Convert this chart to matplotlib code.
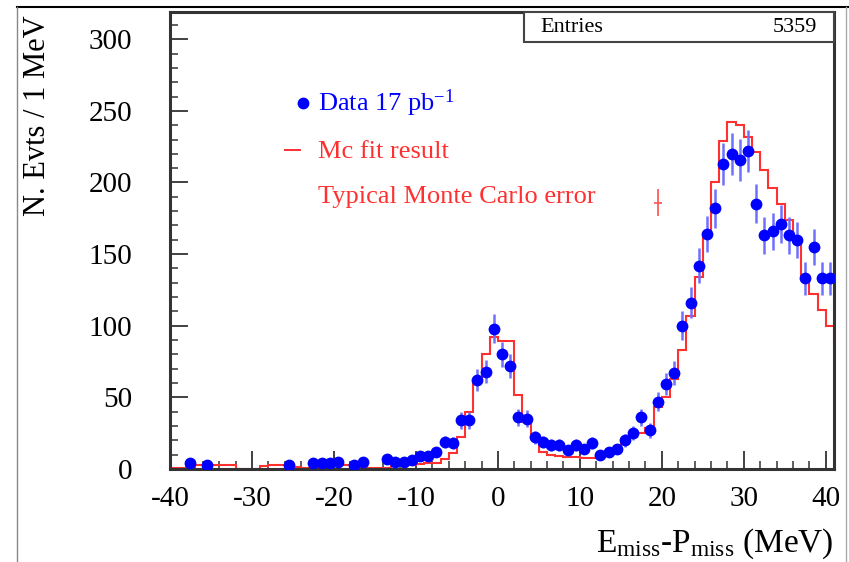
import numpy as np
import matplotlib
matplotlib.use("Agg")
import matplotlib.pyplot as plt
from matplotlib.lines import Line2D
from matplotlib.patches import Rectangle
from matplotlib.ticker import MultipleLocator

plt.rcParams['font.family'] = ['Liberation Serif', 'DejaVu Serif']
plt.rcParams['mathtext.fontset'] = 'custom'
plt.rcParams['mathtext.rm'] = 'Liberation Serif'
plt.rcParams['mathtext.it'] = 'Liberation Serif:italic'

# ---- data ----
data_centers = np.arange(-39.5, 41.0, 1.0)
data_counts = [0, 0, 4, 0, 3, 0, 0, 0, 0, 0,
               0, 0, 0, 0, 3, 0, 0, 4, 4, 4,
               5, 0, 3, 5, 0, 0, 7, 5, 5, 6,
               9, 9, 12, 19, 18, 34, 34, 62, 68, 98,
               80, 72, 36, 35, 22, 19, 17, 17, 13, 17,
               14, 18, 10, 12, 14, 20, 25, 36, 27, 47,
               59, 67, 100, 116, 142, 164, 182, 213, 220, 216,
               222, 185, 163, 166, 171, 163, 160, 133, 155, 133,
               133]

mc_edges = np.arange(-40, 43, 1)
mc_values = [0.5, 0.5, 0.5, 2.5, 2.5, 2.5, 2.5, 2.5, 0.3, 0.3,
             0.3, 2.3, 2.5, 2.5, 1.5, 1.5, 0.5, 0.5, 0.5, 3,
             3, 3, 1.5, 1, 0.5, 0.5, 1, 3, 3, 3,
             3.5, 4, 4, 7, 11, 22.5, 40, 62, 80.5, 92,
             89, 89, 52, 33, 22, 12, 9.5, 9, 8.6, 8.6,
             7.4, 7.4, 10.4, 12, 14, 20, 22, 25, 28.5, 43,
             50, 63, 83, 107, 134, 165, 200, 229, 242, 240,
             232, 221, 209, 196, 185, 174, 161, 135, 122, 111,
             100, 87]

mc_err_x = 19.5
mc_err_y = 186
mc_err = 9.3

entries = 5359
x_ticks = [-40, -30, -20, -10, 0, 10, 20, 30, 40]
y_ticks = [0, 50, 100, 150, 200, 250, 300]

W, H = 849, 562
fig = plt.figure(figsize=(W / 100, H / 100), dpi=100)
ax = fig.add_axes([170 / W, 1 - 469 / H, (834 - 170) / W, (469 - 12) / H])

blue = '#0000ff'
red = '#ff3030'

# MC histogram
ax.stairs(mc_values, mc_edges, baseline=None, color=red, lw=1.5, zorder=2)

# data points
counts = np.array(data_counts, dtype=float)
mask = counts > 0
ax.errorbar(data_centers[mask], counts[mask], yerr=np.sqrt(counts[mask]), xerr=0.5,
            fmt='none', ecolor='#7070ff', elinewidth=1.8, capsize=0, zorder=3)
ax.plot(data_centers[mask], counts[mask], 'o', color=blue, ms=8.5, mew=0, zorder=4)

# typical MC error
ax.errorbar([mc_err_x], [mc_err_y], yerr=[mc_err], xerr=[0.5], fmt='none',
            ecolor='#ff5a5a', elinewidth=1.3, capsize=0, zorder=3)

# legend (hand-drawn like the original)
ax.plot([0.2003], [0.801], 'o', color=blue, ms=8.5, mew=0, transform=ax.transAxes, clip_on=False)
ax.text(0.2229, 0.801, r'Data 17 pb$^{\mathrm{-1}}$', color=blue, fontsize=19,
        transform=ax.transAxes, va='center', ha='left')
ax.plot([0.173, 0.196], [0.698, 0.698], '-', color=red, lw=1.4, transform=ax.transAxes)
ax.text(0.2229, 0.694, 'Mc fit result', color=red, fontsize=19,
        transform=ax.transAxes, va='center', ha='left')
ax.text(0.2229, 0.595, 'Typical Monte Carlo error', color=red, fontsize=19,
        transform=ax.transAxes, va='center', ha='left')

# stats box
ax.add_patch(Rectangle((0.533, 0.934), 0.467, 0.066, transform=ax.transAxes,
                       facecolor='white', edgecolor='#444444', lw=1.5, zorder=5, clip_on=False))
ax.text(0.558, 0.967, 'Entries', fontsize=16, transform=ax.transAxes, va='center', ha='left', zorder=6)
ax.text(0.975, 0.967, str(entries), fontsize=16, transform=ax.transAxes, va='center', ha='right', zorder=6)

ax.set_xlim(-40, 41)
ax.set_ylim(0, 319)
ax.set_xticks(x_ticks)
ax.set_xticklabels([str(t) for t in x_ticks])
ax.set_yticks(y_ticks)
ax.xaxis.set_minor_locator(MultipleLocator(2))
ax.yaxis.set_minor_locator(MultipleLocator(10))
ax.tick_params(which='major', direction='in', length=13, width=1.3, labelsize=21, color='#333333')
ax.tick_params(which='minor', direction='in', length=6, width=1.1, color='#333333')
ax.tick_params(axis='y', which='major', pad=27)
ax.tick_params(axis='x', which='major', pad=12)
ax.tick_params(top=False, right=False, which='both')
for s in ax.spines.values():
    s.set_color('#333333')
    s.set_linewidth(2.2)

ax.set_ylabel('N. Evts / 1 MeV', fontsize=22, loc='top')
ax.yaxis.set_label_coords(-0.178, 0.993)
ax.set_xlabel(r'E$_{\mathrm{miss}}$-P$_{\mathrm{miss}}$ (MeV)', fontsize=24, loc='right')
ax.xaxis.set_label_coords(0.999, -0.125)
ax.xaxis.label.set_va('top')

# outer frame lines
fig.add_artist(Line2D([17 / W, 1], [1 - 7 / H] * 2, transform=fig.transFigure, color='black', lw=1.5))
fig.add_artist(Line2D([17 / W, 17 / W], [0, 1 - 7 / H], transform=fig.transFigure, color='#888888', lw=1.0))
fig.add_artist(Line2D([846 / W, 846 / W], [0, 1 - 7 / H], transform=fig.transFigure, color='#aaaaaa', lw=1.0))

fig.savefig('out.png', dpi=100)
